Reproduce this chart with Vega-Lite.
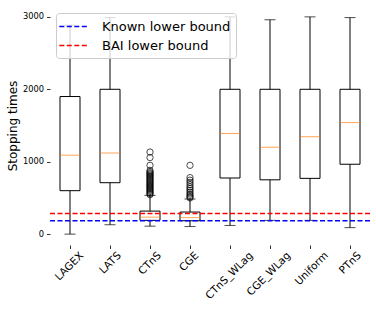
{
  "$schema": "https://vega.github.io/schema/vega-lite/v6.json",
  "width": 320,
  "height": 239,
  "autosize": "none",
  "padding": {"left": 50, "top": 6, "right": 6, "bottom": 64},
  "config": {
    "view": {"stroke": null},
    "font": "DejaVu Sans",
    "axis": {"grid": false, "domain": false, "tickColor": "#333", "tickSize": 3.5, "labelFont": "DejaVu Sans", "labelColor": "black", "labelFontSize": 8.3, "titleFont": "DejaVu Sans", "titleFontWeight": "normal", "titleFontSize": 12, "titleColor": "black"}
  },
  "datasets": {
    "stats": [
      {"method": "LAGEX", "lo": 0, "q1": 600, "med": 1090, "q3": 1900, "hi": 2885},
      {"method": "LATS", "lo": 130, "q1": 710, "med": 1120, "q3": 2000, "hi": 2990},
      {"method": "CTnS", "lo": 110, "q1": 190, "med": 235, "q3": 318, "hi": 535},
      {"method": "CGE", "lo": 105, "q1": 185, "med": 228, "q3": 305, "hi": 485},
      {"method": "CTnS_WLag", "lo": 120, "q1": 775, "med": 1390, "q3": 2000, "hi": 3000},
      {"method": "CGE_WLag", "lo": 190, "q1": 750, "med": 1200, "q3": 2000, "hi": 2960},
      {"method": "Uniform", "lo": 190, "q1": 770, "med": 1345, "q3": 2000, "hi": 3000},
      {"method": "PTnS", "lo": 90, "q1": 965, "med": 1540, "q3": 2000, "hi": 2990}
    ],
    "outliers": [
      {"method": "CTnS", "v": 545}, {"method": "CTnS", "v": 560}, {"method": "CTnS", "v": 575},
      {"method": "CTnS", "v": 590}, {"method": "CTnS", "v": 605}, {"method": "CTnS", "v": 620},
      {"method": "CTnS", "v": 635}, {"method": "CTnS", "v": 650}, {"method": "CTnS", "v": 665},
      {"method": "CTnS", "v": 680}, {"method": "CTnS", "v": 695}, {"method": "CTnS", "v": 710},
      {"method": "CTnS", "v": 725}, {"method": "CTnS", "v": 740}, {"method": "CTnS", "v": 755},
      {"method": "CTnS", "v": 770}, {"method": "CTnS", "v": 785}, {"method": "CTnS", "v": 800},
      {"method": "CTnS", "v": 815}, {"method": "CTnS", "v": 830}, {"method": "CTnS", "v": 845},
      {"method": "CTnS", "v": 860}, {"method": "CTnS", "v": 880}, {"method": "CTnS", "v": 950},
      {"method": "CTnS", "v": 1057}, {"method": "CTnS", "v": 1134},
      {"method": "CGE", "v": 500}, {"method": "CGE", "v": 515}, {"method": "CGE", "v": 535},
      {"method": "CGE", "v": 555}, {"method": "CGE", "v": 580}, {"method": "CGE", "v": 605},
      {"method": "CGE", "v": 630}, {"method": "CGE", "v": 655}, {"method": "CGE", "v": 685},
      {"method": "CGE", "v": 715}, {"method": "CGE", "v": 745}, {"method": "CGE", "v": 780},
      {"method": "CGE", "v": 950}
    ],
    "bounds": [
      {"name": "Known lower bound", "v": 185},
      {"name": "BAI lower bound", "v": 286}
    ]
  },
  "layer": [
    {
      "data": {"name": "stats"},
      "mark": {"type": "rule", "color": "black", "strokeWidth": 1},
      "encoding": {
        "x": {"field": "method", "type": "nominal", "sort": null,
              "scale": {"paddingInner": 0, "paddingOuter": 0},
              "axis": {"title": null, "labelAngle": -45, "labelAlign": "right", "labelBaseline": "middle", "labelFontSize": 10.5, "labelPadding": 5,
                       "labelOffset": {"expr": "length(datum.label + '') * 2.37"}}},
        "y": {"field": "lo", "type": "quantitative",
              "scale": {"domain": [-150, 3150], "nice": false, "zero": false},
              "axis": {"title": "Stopping times", "values": [0, 500, 1000, 1500, 2000, 2500, 3000], "format": "d", "labelPadding": 3, "titlePadding": 3}},
        "y2": {"field": "hi"}
      }
    },
    {
      "data": {"name": "stats"},
      "mark": {"type": "bar", "fill": "white", "stroke": "black", "strokeWidth": 1, "width": 20},
      "encoding": {
        "x": {"field": "method", "type": "nominal", "sort": null},
        "y": {"field": "q1", "type": "quantitative"},
        "y2": {"field": "q3"}
      }
    },
    {
      "data": {"name": "stats"},
      "mark": {"type": "tick", "color": "black", "size": 11, "thickness": 1},
      "encoding": {
        "x": {"field": "method", "type": "nominal", "sort": null},
        "y": {"field": "lo", "type": "quantitative"}
      }
    },
    {
      "data": {"name": "stats"},
      "mark": {"type": "tick", "color": "black", "size": 11, "thickness": 1},
      "encoding": {
        "x": {"field": "method", "type": "nominal", "sort": null},
        "y": {"field": "hi", "type": "quantitative"}
      }
    },
    {
      "data": {"name": "stats"},
      "mark": {"type": "tick", "color": "#ff7f0e", "size": 20, "thickness": 1},
      "encoding": {
        "x": {"field": "method", "type": "nominal", "sort": null},
        "y": {"field": "med", "type": "quantitative"}
      }
    },
    {
      "data": {"name": "outliers"},
      "mark": {"type": "point", "shape": "circle", "filled": false, "stroke": "black", "strokeWidth": 1, "size": 40},
      "encoding": {
        "x": {"field": "method", "type": "nominal", "sort": null},
        "y": {"field": "v", "type": "quantitative"}
      }
    },
    {
      "data": {"name": "bounds"},
      "mark": {"type": "rule", "strokeDash": [5, 2.5], "strokeWidth": 1.5},
      "encoding": {
        "y": {"field": "v", "type": "quantitative"},
        "color": {"field": "name", "type": "nominal",
                  "scale": {"domain": ["Known lower bound", "BAI lower bound"], "range": ["blue", "red"]},
                  "legend": {"title": null, "orient": "none", "legendX": 6, "legendY": 7,
                             "symbolType": "M-2,0H2", "symbolDash": [5, 2.5], "symbolStrokeWidth": 1.5, "symbolSize": 225,
                             "labelFontSize": 13, "labelFont": "DejaVu Sans", "labelColor": "black", "rowPadding": 3,
                             "fillColor": "rgba(255,255,255,0.8)", "strokeColor": "#ccc", "cornerRadius": 3,
                             "padding": 5, "symbolOffset": 4.8, "labelOffset": 19.2}}
      }
    }
  ]
}
